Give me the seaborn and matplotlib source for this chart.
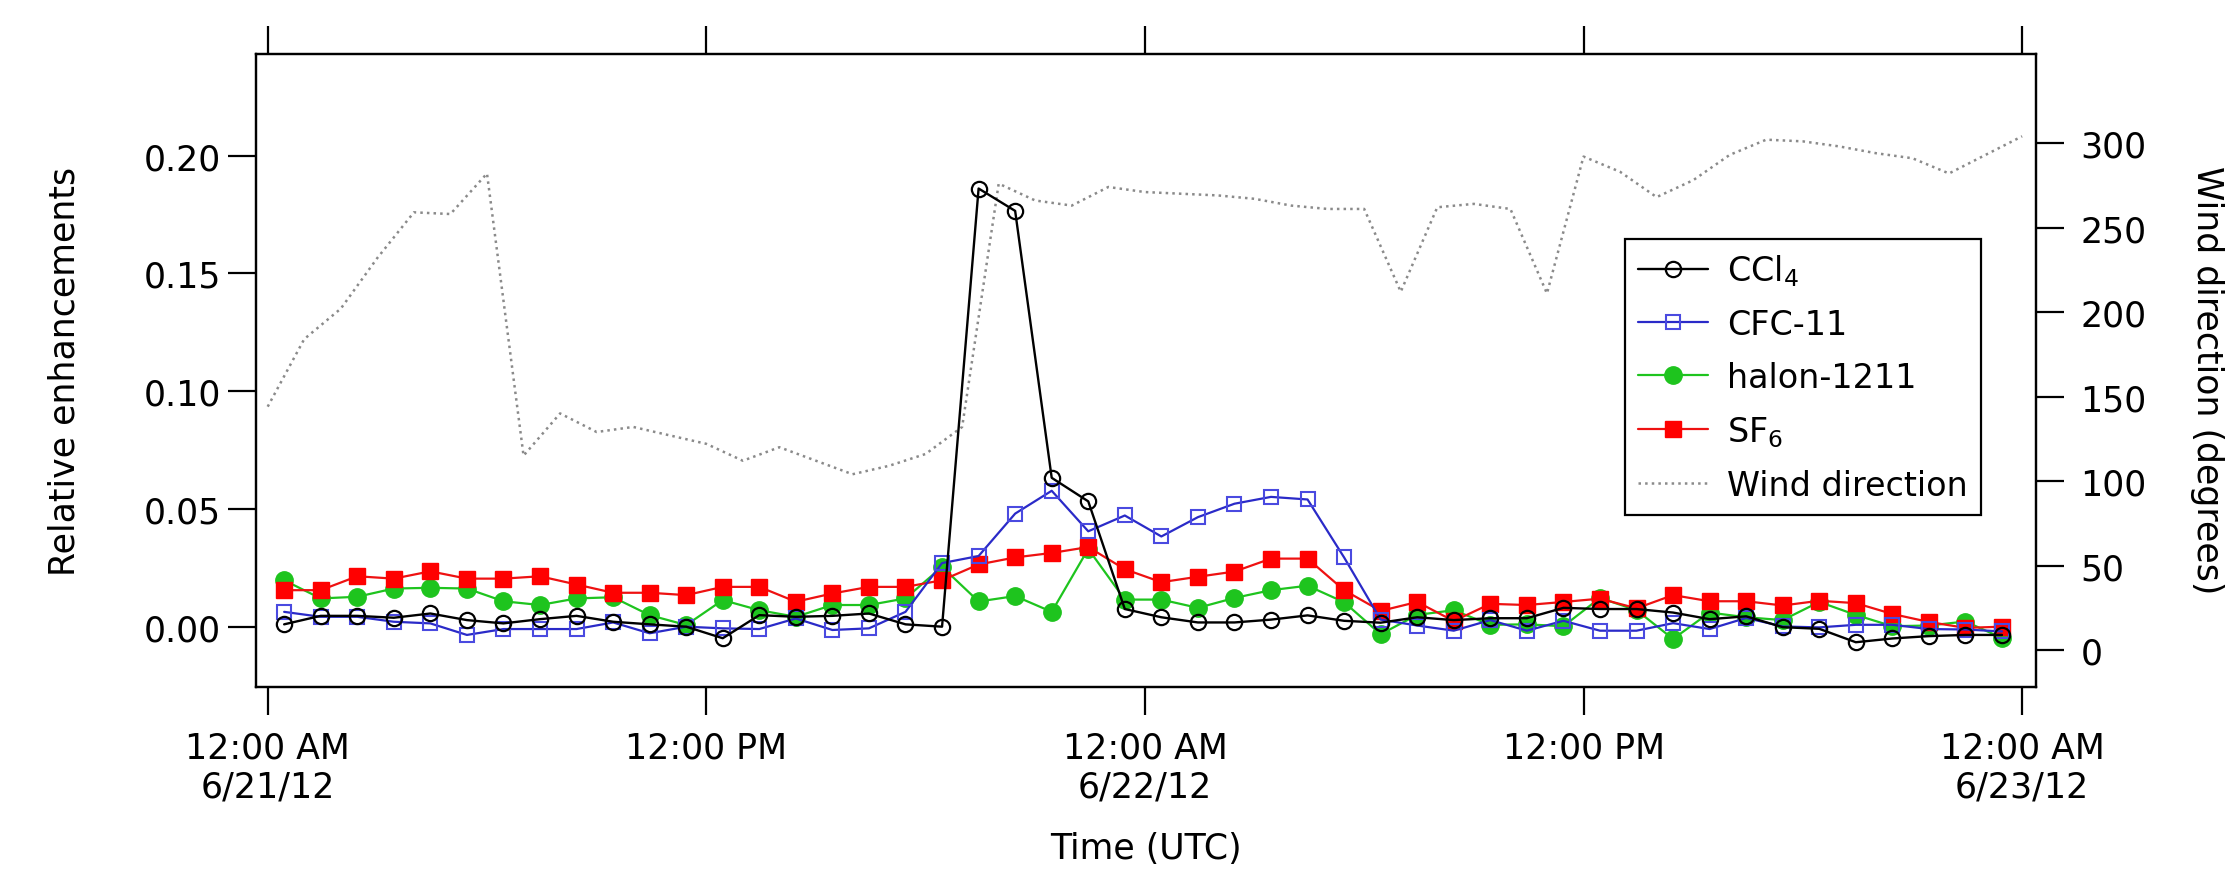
import numpy as np
import pandas as pd
import matplotlib
matplotlib.use('Agg')
import matplotlib.pyplot as plt
from matplotlib.ticker import FormatStrFormatter
import seaborn as sns

# hourly samples (trace gases ~27 min past the hour, wind on the hour)
sample_times = pd.date_range('2012-06-21 00:27', periods=48, freq='h')
wind_times = pd.date_range('2012-06-21 00:00', periods=49, freq='h')

ccl4 = [0.0010, 0.0046, 0.0046, 0.0038, 0.0056, 0.0028, 0.0014, 0.0032, 0.0046, 0.0021,
        0.0010, 0.0000, -0.0049, 0.0049, 0.0042, 0.0046, 0.0056, 0.0010, 0.0000, 0.1860,
        0.1765, 0.0632, 0.0532, 0.0075, 0.0040, 0.0018, 0.0018, 0.0030, 0.0048, 0.0025,
        0.0017, 0.0040, 0.0028, 0.0036, 0.0036, 0.0080, 0.0075, 0.0075, 0.0060, 0.0032,
        0.0044, -0.0002, -0.0009, -0.0066, -0.0050, -0.0040, -0.0035, -0.0035]

cfc11 = [0.0063, 0.0042, 0.0042, 0.0021, 0.0014, -0.0035, -0.0010, -0.0010, -0.0010, 0.0018,
         -0.0028, 0.0000, -0.0007, -0.0010, 0.0035, -0.0014, -0.0007, 0.0063, 0.0270, 0.0300,
         0.0480, 0.0577, 0.0405, 0.0472, 0.0383, 0.0465, 0.0522, 0.0551, 0.0540, 0.0294,
         0.0030, 0.0005, -0.0017, 0.0028, -0.0017, 0.0025, -0.0017, -0.0017, 0.0015, -0.0010,
         0.0037, 0.0001, -0.0003, 0.0008, 0.0008, -0.0010, -0.0012, -0.0020]

halon1211 = [0.0197, 0.0120, 0.0127, 0.0162, 0.0165, 0.0162, 0.0108, 0.0092, 0.0120, 0.0125,
             0.0049, 0.0007, 0.0113, 0.0070, 0.0042, 0.0092, 0.0092, 0.0120, 0.0254, 0.0107,
             0.0130, 0.0063, 0.0330, 0.0115, 0.0115, 0.0080, 0.0122, 0.0155, 0.0174, 0.0104,
             -0.0032, 0.0050, 0.0070, 0.0008, 0.0010, 0.0002, 0.0122, 0.0070, -0.0052, 0.0060,
             0.0040, 0.0028, 0.0105, 0.0050, 0.0002, 0.0005, 0.0022, -0.0048]

sf6 = [0.0155, 0.0155, 0.0214, 0.0204, 0.0235, 0.0204, 0.0204, 0.0214, 0.0179, 0.0144,
       0.0144, 0.0134, 0.0169, 0.0169, 0.0106, 0.0141, 0.0169, 0.0169, 0.0197, 0.0264,
       0.0294, 0.0313, 0.0338, 0.0244, 0.0189, 0.0212, 0.0234, 0.0289, 0.0289, 0.0155,
       0.0067, 0.0105, 0.0024, 0.0097, 0.0092, 0.0105, 0.0119, 0.0078, 0.0134, 0.0108,
       0.0108, 0.0090, 0.0110, 0.0100, 0.0054, 0.0020, -0.0005, 0.0000]

wind_dir = [144, 184, 202, 232, 259, 258, 282, 115, 140, 129, 132, 127, 122, 112, 120, 112,
            104, 109, 116, 132, 276, 266, 263, 274, 271, 270, 269, 267, 263, 261, 261, 212,
            262, 264, 261, 211, 292, 283, 268, 278, 293, 302, 301, 298, 294, 291, 282, 293, 304]

tick_times = pd.to_datetime(['2012-06-21 00:00', '2012-06-21 12:00', '2012-06-22 00:00',
                             '2012-06-22 12:00', '2012-06-23 00:00'])
tick_labels = ['12:00 AM\n6/21/12', '12:00 PM', '12:00 AM\n6/22/12', '12:00 PM', '12:00 AM\n6/23/12']

sns.set_theme(style='ticks')
plt.rcParams['font.family'] = ['DejaVu Sans']
plt.rcParams['font.size'] = 25
plt.rcParams['text.color'] = 'black'
plt.rcParams['axes.edgecolor'] = 'black'
plt.rcParams['axes.labelcolor'] = 'black'
plt.rcParams['xtick.color'] = 'black'
plt.rcParams['ytick.color'] = 'black'
plt.rcParams['axes.linewidth'] = 1.6

W, H = 2232, 870
fig = plt.figure(figsize=(W / 100, H / 100), dpi=100)
ax = fig.add_axes([256 / W, 1 - 688 / H, (2036 - 256) / W, (688 - 55) / H])
ax2 = ax.twinx()
ax.set_zorder(ax2.get_zorder() + 1)
ax.patch.set_visible(False)

# wind direction on the right axis
sns.lineplot(x=wind_times, y=wind_dir, ax=ax2, color='#8a8a8a', linestyle=':',
             linewidth=1.8, label='Wind direction')

# trace gases on the left axis (drawn so that CCl4 ends up on top)
blue = '#2a2ac8'
green = '#1ec41e'
sns.lineplot(x=sample_times, y=halon1211, ax=ax, color=green, linewidth=1.6,
             marker='o', markersize=12.5, markerfacecolor=green, markeredgecolor=green,
             markeredgewidth=1, label='halon-1211')
sns.lineplot(x=sample_times, y=sf6, ax=ax, color='#ee1111', linewidth=1.6,
             marker='s', markersize=11.5, markerfacecolor='#ff0000', markeredgecolor='#ff0000',
             markeredgewidth=1, label='SF$_6$')
sns.lineplot(x=sample_times, y=cfc11, ax=ax, color=blue, linewidth=1.6,
             marker='s', markersize=10, markerfacecolor='none', markeredgecolor='#4a4ae0',
             markeredgewidth=1.5, label='CFC-11')
sns.lineplot(x=sample_times, y=ccl4, ax=ax, color='black', linewidth=1.7,
             marker='o', markersize=11, markerfacecolor='none', markeredgecolor='black',
             markeredgewidth=1.6, label='CCl$_4$')

for a in (ax, ax2):
    if a.get_legend() is not None:
        a.get_legend().remove()

t0 = pd.Timestamp('2012-06-21 00:00')
ax.set_xlim(t0 + pd.Timedelta(hours=-0.32), t0 + pd.Timedelta(hours=48.38))
ax.set_xticks(tick_times)
ax.set_xticklabels(tick_labels)
ax.set_ylim(-0.0256, 0.2431)
ax.set_yticks([0.00, 0.05, 0.10, 0.15, 0.20])
ax.yaxis.set_major_formatter(FormatStrFormatter('%.2f'))
ax2.set_ylim(-21.9, 352.7)
ax2.set_yticks([0, 50, 100, 150, 200, 250, 300])

ax.tick_params(axis='x', which='both', top=True, bottom=True, direction='out',
               length=20, width=1.6, pad=11, labelsize=25)
ax.tick_params(axis='y', left=True, right=False, direction='out',
               length=20, width=1.6, pad=5, labelsize=25)
ax2.tick_params(axis='y', right=True, direction='out', length=20, width=1.6,
                pad=12, labelsize=25)
for t in ax.xaxis.get_major_ticks():
    t.tick2line.set_markersize(20)
for a in (ax, ax2):
    for s in a.spines.values():
        s.set_linewidth(1.6)
        s.set_color('black')

ax.set_xlabel('Time (UTC)', fontsize=25, labelpad=20)
ax.set_ylabel('Relative enhancements', fontsize=25, labelpad=45)
ax2.set_ylabel('')
fig.text(2190 / W, 1 - 380 / H, 'Wind direction (degrees)', rotation=270,
         ha='left', va='center', fontsize=25)

# legend combining both axes, in the reference order
h1, l1 = ax.get_legend_handles_labels()
h2, l2 = ax2.get_legend_handles_labels()
lookup = dict(zip(l1 + l2, h1 + h2))
order = ['CCl$_4$', 'CFC-11', 'halon-1211', 'SF$_6$', 'Wind direction']
leg = ax.legend([lookup[k] for k in order], order, loc='upper left',
                bbox_to_anchor=((1625 - 256) / 1780, (688 - 240) / 633), borderaxespad=0,
                fontsize=24, frameon=True, fancybox=False, framealpha=1, edgecolor='black',
                handlelength=2.1, handletextpad=0.55, labelspacing=0.6, borderpad=0.4)
leg.get_frame().set_linewidth(1.6)

fig.savefig('out.png', dpi=100)
